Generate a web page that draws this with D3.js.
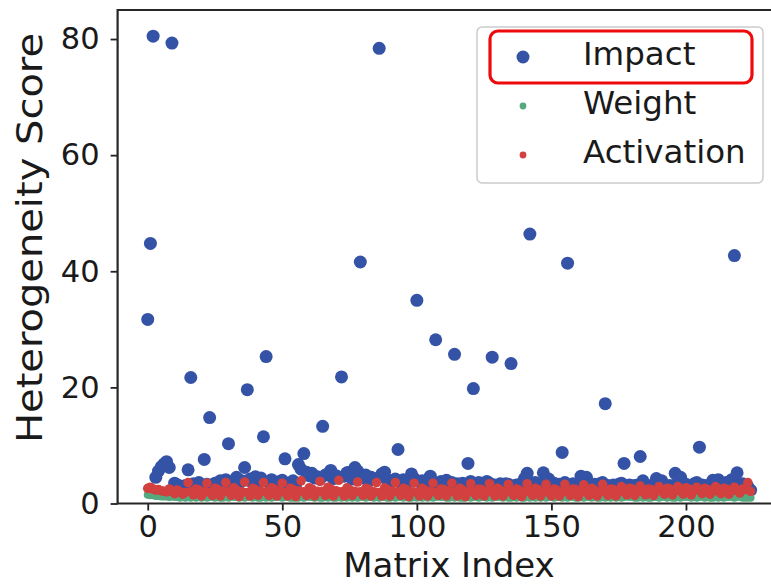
<!DOCTYPE html>
<html>
<head>
<meta charset="utf-8">
<script src="https://cdn.jsdelivr.net/npm/d3@7"></script>
<style>
  body { margin: 0; background: #fff; }
  svg { display: block; overflow: hidden; }
  text { font-family: "DejaVu Sans", sans-serif; fill: #1a1a1a; }
</style>
</head>
<body>
<svg id="chart" width="771" height="586"></svg>
<script>
// one value per matrix (index 0..224), 7 per row
var impact = [
  31.7, 44.8, 80.5, 4.5, 5.6, 6.3, 6.8,
  7.2, 6.2, 79.3, 3.5, 3.2, 3.0, 2.8,
  3.1, 5.8, 21.7, 3.4, 2.9, 3.6, 3.2,
  7.6, 3.3, 14.8, 3.0, 3.5, 2.8, 3.9,
  3.2, 4.1, 10.3, 3.3, 3.8, 4.5, 3.6,
  3.9, 6.2, 19.6, 4.2, 3.5, 4.6, 3.4,
  4.4, 11.5, 25.3, 3.7, 4.1, 3.2, 3.6,
  3.8, 4.0, 7.7, 3.5, 3.1, 3.9, 3.3,
  6.7, 5.9, 8.6, 5.4, 4.8, 5.2, 4.4,
  4.6, 4.2, 13.3, 4.9, 5.1, 5.7, 4.3,
  4.8, 4.5, 21.8, 4.7, 5.3, 5.4, 4.2,
  6.2, 5.6, 41.6, 4.4, 4.9, 3.8, 4.5,
  4.1, 4.3, 78.4, 5.1, 5.4, 4.0, 3.7,
  3.9, 4.2, 9.3, 3.6, 4.1, 3.5, 3.8,
  5.1, 4.3, 35.0, 3.7, 3.9, 3.4, 4.0,
  4.7, 3.6, 28.2, 3.5, 3.8, 3.3, 4.0,
  3.7, 3.6, 25.7, 3.4, 3.2, 3.5, 3.1,
  6.9, 3.8, 19.8, 3.3, 3.6, 3.1, 3.4,
  3.8, 3.5, 25.2, 3.2, 3.0, 3.4, 3.1,
  3.4, 3.3, 24.1, 3.0, 3.2, 2.9, 3.5,
  4.3, 5.2, 46.4, 3.3, 3.6, 3.1, 3.4,
  5.3, 3.7, 4.2, 3.2, 3.5, 3.0, 3.3,
  8.8, 3.6, 41.4, 3.1, 3.4, 3.0, 3.2,
  4.7, 3.5, 4.5, 3.2, 3.0, 3.3, 2.9,
  3.4, 3.6, 17.2, 3.1, 2.9, 3.2, 3.0,
  3.3, 3.5, 6.9, 3.0, 3.2, 2.8, 3.1,
  3.2, 8.1, 3.9, 3.0, 2.9, 3.1, 2.8,
  4.3, 3.6, 3.9, 3.2, 3.0, 3.1, 2.9,
  5.2, 4.6, 4.5, 3.1, 3.3, 2.9, 3.0,
  3.4, 3.6, 9.7, 3.2, 3.0, 3.1, 2.8,
  4.0, 3.5, 4.1, 3.3, 3.1, 3.6, 3.2,
  4.1, 42.7, 5.3, 3.2, 3.4, 3.0, 2.9,
  2.3
];

var weight = [
  1.5, 1.4, 1.4, 1.3, 1.3, 1.2, 1.2,
  1.2, 1.1, 1.2, 1.1, 1.1, 1.0, 1.1,
  1.0, 1.1, 1.0, 1.2, 1.0, 1.1, 1.0,
  1.1, 1.0, 1.1, 1.2, 1.0, 1.1, 1.0,
  1.0, 1.1, 1.0, 1.2, 1.1, 1.1, 1.0,
  1.1, 1.0, 1.1, 1.2, 1.0, 1.1, 1.0,
  1.0, 1.1, 1.0, 1.2, 1.0, 1.1, 1.1,
  1.1, 1.0, 1.1, 1.2, 1.0, 1.0, 1.0,
  1.0, 1.1, 1.0, 1.2, 1.1, 1.1, 1.0,
  1.1, 1.0, 1.0, 1.2, 1.0, 1.1, 1.0,
  1.0, 1.1, 1.0, 1.2, 1.0, 1.1, 1.0,
  1.1, 1.0, 1.1, 1.2, 1.0, 1.1, 1.1,
  1.0, 1.1, 1.0, 1.2, 1.1, 1.0, 1.0,
  1.1, 1.0, 1.1, 1.2, 1.0, 1.1, 1.0,
  1.0, 1.1, 1.0, 1.2, 1.0, 1.1, 1.0,
  1.1, 1.0, 1.1, 1.2, 1.1, 1.1, 1.0,
  1.0, 1.1, 1.0, 1.2, 1.0, 1.0, 1.0,
  1.1, 1.0, 1.1, 1.2, 1.0, 1.1, 1.1,
  1.0, 1.1, 1.0, 1.2, 1.1, 1.1, 1.0,
  1.1, 1.0, 1.0, 1.2, 1.0, 1.1, 1.0,
  1.0, 1.1, 1.0, 1.2, 1.0, 1.1, 1.0,
  1.1, 1.0, 1.1, 1.2, 1.0, 1.1, 1.1,
  1.0, 1.1, 1.0, 1.2, 1.1, 1.0, 1.0,
  1.1, 1.0, 1.1, 1.2, 1.0, 1.1, 1.0,
  1.0, 1.1, 1.0, 1.2, 1.0, 1.1, 1.0,
  1.1, 1.0, 1.1, 1.2, 1.1, 1.1, 1.0,
  1.0, 1.1, 1.0, 1.2, 1.0, 1.0, 1.1,
  1.1, 1.0, 1.1, 1.2, 1.0, 1.1, 1.0,
  1.0, 1.1, 1.0, 1.2, 1.1, 1.1, 1.0,
  1.1, 1.0, 1.1, 1.2, 1.0, 1.1, 1.0,
  1.0, 1.1, 1.0, 1.2, 1.0, 1.1, 1.1,
  1.1, 1.0, 1.1, 1.2, 1.0, 1.0, 1.0,
  1.0
];

var activation = [
  2.6, 2.8, 2.5, 2.3, 2.4, 2.2, 2.1,
  2.0, 2.5, 2.2, 1.7, 2.3, 2.0, 1.6,
  1.9, 3.6, 2.0, 1.5, 2.5, 2.3, 1.3,
  2.0, 3.5, 1.9, 1.4, 2.6, 2.4, 1.3,
  2.1, 3.6, 2.0, 1.4, 2.7, 2.3, 1.2,
  2.0, 3.7, 1.9, 1.3, 2.6, 2.4, 1.4,
  2.1, 3.6, 2.0, 1.4, 2.7, 2.5, 1.3,
  2.0, 3.5, 1.9, 1.3, 2.6, 2.4, 1.2,
  2.2, 3.9, 2.0, 1.4, 2.7, 2.5, 1.3,
  2.1, 3.8, 2.1, 1.4, 2.8, 2.5, 1.3,
  2.2, 4.0, 2.0, 1.3, 2.7, 2.4, 1.4,
  2.1, 3.7, 2.0, 1.4, 2.6, 2.5, 1.3,
  2.0, 3.6, 1.9, 1.3, 2.7, 2.4, 1.3,
  2.1, 3.6, 2.0, 1.4, 2.6, 2.4, 1.2,
  2.0, 3.5, 1.9, 1.3, 2.6, 2.3, 1.3,
  2.0, 3.5, 1.9, 1.4, 2.5, 2.4, 1.3,
  2.1, 3.5, 2.0, 1.3, 2.6, 2.3, 1.2,
  2.0, 3.4, 1.9, 1.4, 2.5, 2.4, 1.3,
  2.0, 3.4, 2.0, 1.3, 2.6, 2.3, 1.3,
  2.1, 3.3, 1.9, 1.4, 2.5, 2.3, 1.2,
  2.0, 3.4, 2.0, 1.4, 2.6, 2.4, 1.3,
  2.1, 3.3, 1.9, 1.3, 2.5, 2.3, 1.3,
  2.0, 3.3, 2.0, 1.4, 2.5, 2.4, 1.2,
  2.1, 3.2, 1.9, 1.4, 2.6, 2.3, 1.3,
  2.0, 3.3, 2.0, 1.4, 2.5, 2.4, 1.3,
  2.1, 2.9, 2.0, 1.5, 2.6, 2.5, 1.4,
  2.1, 3.0, 2.0, 1.5, 2.5, 2.4, 1.4,
  2.2, 2.9, 2.1, 1.6, 2.6, 2.5, 1.5,
  2.2, 2.9, 2.1, 1.6, 2.7, 2.5, 1.5,
  2.3, 2.8, 2.2, 1.7, 2.6, 2.4, 1.6,
  2.3, 2.9, 2.1, 1.7, 2.6, 2.5, 1.6,
  2.2, 2.8, 2.2, 1.8, 2.5, 2.4, 3.6,
  2.1
];

var seriesNames = ["Impact", "Weight", "Activation"];
var seriesColors = ["#3553a6", "#55a97e", "#d2403f"];
var xTicks = [0, 50, 100, 150, 200];
var yTicks = [0, 20, 40, 60, 80];

var svg = d3.select("#chart");

var x = d3.scaleLinear().domain([-11.2, 235.2]).range([117.6, 780.7]);
var y = d3.scaleLinear().domain([0, 85]).range([503.5, 10]);

// axes
var xAxis = svg.append("g")
  .attr("transform", "translate(0," + y(0) + ")")
  .call(d3.axisBottom(x).tickValues(xTicks).tickSize(7).tickSizeOuter(0).tickPadding(5));
var yAxis = svg.append("g")
  .attr("transform", "translate(" + x.range()[0] + ",0)")
  .call(d3.axisLeft(y).tickValues(yTicks).tickSize(7).tickSizeOuter(0).tickPadding(11));

[xAxis, yAxis].forEach(function(a) {
  a.select(".domain").remove();
  a.selectAll(".tick line").attr("stroke", "#222").attr("stroke-width", 1.8);
  a.selectAll(".tick text").style("font-size", "30.5px").attr("fill", "#1a1a1a");
});

// spines
var x0 = x.range()[0], x1 = x.range()[1], yb = y.range()[0], yt = y.range()[1];
svg.append("path")
  .attr("d", "M" + x1 + "," + yt + "H" + x0 + "V" + yb + "H" + x1 + "V" + yt)
  .attr("fill", "none")
  .attr("stroke", "#262626")
  .attr("stroke-width", 2.2);

// points
var plot = svg.append("g");

function drawSeries(values, color, r) {
  plot.append("g")
    .selectAll("circle")
    .data(values)
    .enter().append("circle")
    .attr("cx", function(d, i) { return x(i); })
    .attr("cy", function(d) { return y(d); })
    .attr("r", r)
    .attr("fill", color);
}

drawSeries(impact, seriesColors[0], 6.5);
drawSeries(weight, seriesColors[1], 4);
drawSeries(activation, seriesColors[2], 4.8);

// labels
svg.append("text")
  .attr("x", 449)
  .attr("y", 577)
  .attr("text-anchor", "middle")
  .style("font-size", "34px")
  .text("Matrix Index");

svg.append("text")
  .attr("transform", "translate(42,238) rotate(-90)")
  .attr("text-anchor", "middle")
  .attr("textLength", 410)
  .attr("lengthAdjust", "spacingAndGlyphs")
  .style("font-size", "35px")
  .text("Heterogeneity Score");

// legend
var legend = svg.append("g");
legend.append("rect")
  .attr("x", 477).attr("y", 27)
  .attr("width", 286).attr("height", 156)
  .attr("rx", 5)
  .attr("fill", "#fff").attr("fill-opacity", 0.8)
  .attr("stroke", "#cccccc").attr("stroke-width", 1.5);

var legendRadius = [6.5, 3.4, 3.4];
var legendY = [57, 106, 155];

seriesNames.forEach(function(name, i) {
  legend.append("circle")
    .attr("cx", 523).attr("cy", legendY[i])
    .attr("r", legendRadius[i])
    .attr("fill", seriesColors[i]);
  legend.append("text")
    .attr("x", 583).attr("y", legendY[i] + 8)
    .style("font-size", "32.5px")
    .text(name);
});

// highlight round the first entry
legend.append("rect")
  .attr("x", 490).attr("y", 31)
  .attr("width", 262).attr("height", 52)
  .attr("rx", 8)
  .attr("fill", "none")
  .attr("stroke", "#ee0a0a")
  .attr("stroke-width", 3.2);
</script>
</body>
</html>
